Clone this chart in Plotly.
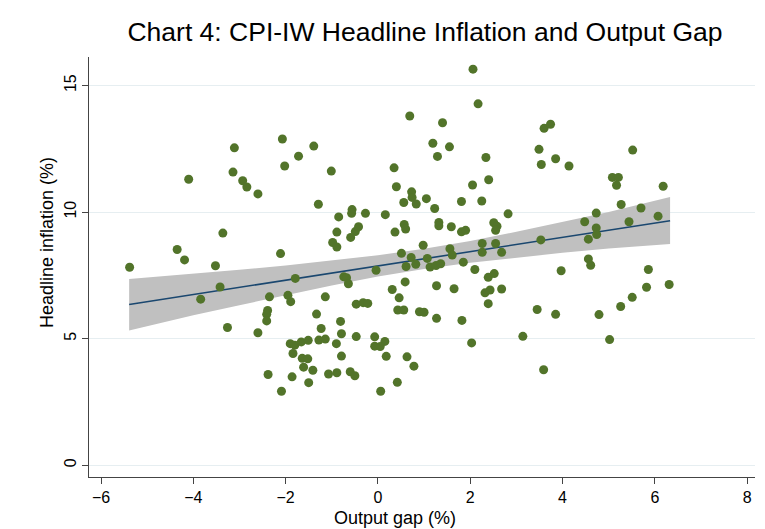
import plotly.graph_objects as go

# Scatter data: output gap (%) and headline inflation (%)
output_gap = [
    -4.10, -3.11, -3.14, -2.93, -2.84, -2.60, -2.07, -2.02, -1.72, -1.39,
    -1.01, -1.29, -0.85, -0.56, -0.57, -0.27, 0.16, 0.35, 0.40, -3.36,
    -0.89, -0.49, -0.42, 0.37, -4.35, -4.19, -5.38, -3.52, -2.11, -3.42,
    -3.84, -3.26, -1.79, -2.35, -1.95, -1.89, -2.39, -2.41, -2.41, -2.60,
    -1.14, -1.33, -0.98, -0.89, -0.59, -0.74, -0.68, -0.64, -0.04, -0.47,
    -0.32, -0.22, -0.81, -1.23, -0.79, -0.90, -0.47, -0.07, 0.15, -0.07,
    0.05, 0.18, -1.90, -1.80, -1.66, -1.51, -1.28, -1.14, -1.84, -1.64,
    -1.52, -1.61, -1.41, -1.07, -0.89, -0.60, -0.50, -0.79, -2.38, -1.86,
    -1.50, -2.09, 0.06, 0.42, 0.63, 0.78, 0.31, 0.46, 0.59, 0.43,
    0.56, 0.90, 1.00, 1.27, 1.82, 1.27, 1.65, 2.03, 2.39, 2.32,
    2.43, 2.68, 2.39, 2.52, 2.10, 1.85, 0.51, 0.72, 0.82, 0.61,
    0.98, 1.07, 1.13, 1.26, 1.36, 1.56, 1.61, 2.26, 2.26, 2.55,
    2.68, 1.59, 1.81, 1.90, 2.51, 2.58, 2.55, 0.57, 0.60, 1.32,
    1.32, 2.82, 2.06, 2.17, 0.69, 1.40, 1.19, 1.55, 1.29, 2.34,
    2.40, 2.05, 0.73, 0.74, 0.56, 0.83, 1.05, 1.23, 1.81, 2.25,
    3.60, 3.74, 3.49, 3.54, 3.85, 4.14, 5.52, 5.08, 5.21, 5.17,
    6.18, 4.73, 5.27, 5.70, 6.07, 4.48, 4.73, 4.74, 4.56, 5.44,
    3.53, 4.56, 4.61, 3.97, 5.86, 5.82, 6.31, 5.51, 5.26, 4.79,
    3.85, 3.45, 3.14, 5.02, 3.59,
]
inflation = [
    11.30, 12.54, 11.58, 11.24, 10.99, 10.72, 12.89, 11.82, 12.21, 12.61,
    11.62, 10.31, 9.81, 10.10, 9.95, 9.95, 9.90, 11.75, 11.00, 9.17,
    9.21, 9.23, 9.42, 9.21, 8.52, 8.11, 7.82, 7.88, 8.36, 7.04,
    6.56, 5.44, 7.38, 6.65, 6.71, 6.46, 6.11, 5.96, 5.70, 5.23,
    6.65, 5.97, 8.80, 8.62, 9.00, 7.44, 7.41, 7.17, 7.70, 6.36,
    6.42, 6.39, 5.68, 5.40, 5.19, 4.80, 5.08, 5.07, 4.89, 4.70,
    4.69, 4.30, 4.80, 4.74, 4.87, 4.93, 4.94, 4.98, 4.41, 4.22,
    4.20, 3.87, 3.75, 3.60, 3.65, 3.69, 3.53, 4.31, 3.58, 3.49,
    3.26, 2.92, 2.92, 3.27, 4.28, 3.91, 6.94, 6.61, 7.24, 6.13,
    6.13, 6.06, 6.04, 5.80, 5.72, 7.09, 6.97, 4.83, 6.38, 6.81,
    6.92, 6.96, 7.42, 7.57, 7.73, 8.02, 8.37, 8.21, 7.94, 7.85,
    8.69, 8.17, 7.83, 7.89, 7.96, 8.55, 8.30, 8.76, 8.41, 8.76,
    8.41, 9.42, 9.22, 9.28, 9.58, 9.44, 9.28, 9.51, 9.33, 9.59,
    9.46, 9.93, 15.65, 14.28, 13.80, 13.53, 12.72, 12.58, 12.20, 12.16,
    11.28, 11.07, 10.80, 10.58, 10.38, 10.32, 10.53, 10.14, 10.42, 10.44,
    13.31, 13.47, 12.48, 11.88, 12.11, 11.82, 12.45, 11.37, 11.37, 11.06,
    11.02, 9.96, 10.30, 10.16, 9.84, 9.62, 9.37, 9.11, 8.93, 9.62,
    8.90, 8.15, 7.90, 7.68, 7.73, 7.03, 7.14, 6.63, 6.27, 5.95,
    5.96, 6.15, 5.09, 4.96, 3.77,
]

# Fitted line with 95% confidence band
fit_x = [-5.39, -4.0, -3.0, -2.0, -1.0, 0.0, 1.0, 2.0, 3.0, 4.0, 5.0, 6.33]
fit_y = [6.35, 6.74, 7.02, 7.30, 7.59, 7.87, 8.15, 8.43, 8.72, 9.00, 9.28, 9.66]
ci_low = [5.32, 5.92, 6.32, 6.72, 7.10, 7.45, 7.75, 8.00, 8.21, 8.39, 8.56, 8.74]
ci_high = [7.36, 7.56, 7.72, 7.89, 8.08, 8.29, 8.55, 8.86, 9.22, 9.61, 10.00, 10.60]

x_ticks = [-6, -4, -2, 0, 2, 4, 6, 8]
y_ticks = [0, 5, 10, 15]

FONT = "Liberation Sans, Arial, sans-serif"

fig = go.Figure()
fig.add_trace(go.Scatter(x=fit_x, y=ci_low, mode="lines", line=dict(width=0),
                         hoverinfo="skip", showlegend=False))
fig.add_trace(go.Scatter(x=fit_x, y=ci_high, mode="lines", line=dict(width=0),
                         fill="tonexty", fillcolor="rgb(192,192,192)",
                         hoverinfo="skip", showlegend=False))
fig.add_trace(go.Scatter(x=fit_x, y=fit_y, mode="lines",
                         line=dict(color="#1a476f", width=1.6), showlegend=False))
fig.add_trace(go.Scatter(x=output_gap, y=inflation, mode="markers",
                         marker=dict(color="#52742a", size=9, line=dict(width=0)),
                         showlegend=False))

# The page body has an 8px margin, so the figure is drawn 8px smaller and
# all pixel positions are shifted by 8px.
OFF = 8
W, H = 765 - OFF, 529 - OFF
L, R, T, B = 89 - OFF, 10, 57 - OFF, 52
PW, PH = W - L - R, H - T - B


def px_x(px):
    return (px - OFF - L) / PW


def px_y(py):
    return ((H - B) - (py - OFF)) / PH


fig.update_layout(
    width=W, height=H,
    margin=dict(l=L, r=R, t=T, b=B, autoexpand=False),
    paper_bgcolor="white", plot_bgcolor="white",
    font=dict(family=FONT, color="black", size=16),
    title=dict(text="Chart 4: CPI-IW Headline Inflation and Output Gap",
               xref="paper", x=px_x(425), xanchor="center",
               yref="container", y=1 - (32 - OFF) / H, yanchor="middle",
               font=dict(family=FONT, size=26.5, color="black")),
    annotations=[
        dict(text="Output gap (%)", xref="paper", yref="paper",
             x=px_x(395), y=px_y(518),
             xanchor="center", yanchor="middle", showarrow=False,
             font=dict(family=FONT, size=18, color="black")),
        dict(text="Headline inflation (%)", xref="paper", yref="paper",
             x=px_x(47), y=px_y(243),
             xanchor="center", yanchor="middle", textangle=-90, showarrow=False,
             font=dict(family=FONT, size=18, color="black")),
    ],
)
fig.update_xaxes(
    range=[-6.26, 8.17], tickvals=x_ticks, ticks="outside", ticklen=6,
    tickcolor="#444", showline=True, linecolor="#444", linewidth=1,
    showgrid=False, zeroline=False, tickfont=dict(size=16), automargin=False,
)
fig.update_yaxes(
    range=[-0.47, 16.13], tickvals=y_ticks, ticks="outside", ticklen=6,
    tickcolor="#444", showline=True, linecolor="#444", linewidth=1,
    showgrid=True, gridcolor="#e6eef1", gridwidth=1, zeroline=False,
    tickangle=-90, tickfont=dict(size=16), automargin=False,
)

fig.write_html("out.html")
